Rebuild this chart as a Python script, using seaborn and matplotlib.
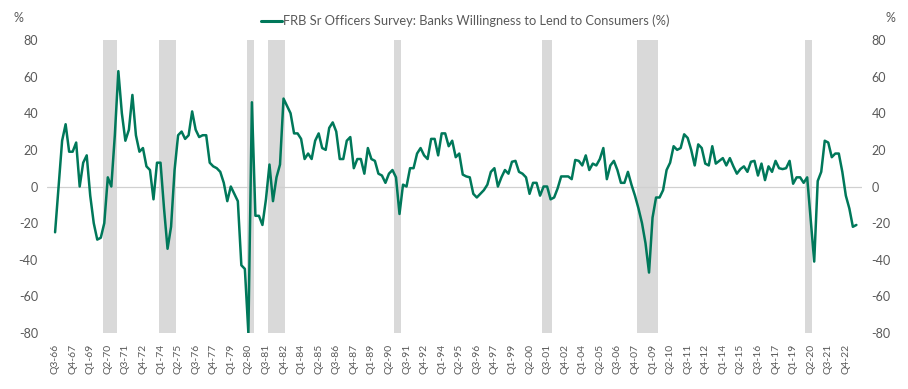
import pandas as pd
import matplotlib.pyplot as plt
from matplotlib.lines import Line2D
import seaborn as sns

# Quarterly categories Q3-66 .. Q3-23
quarters = [f"Q{p.quarter}-{p.year % 100:02d}"
            for p in pd.period_range("1966Q3", "2023Q3", freq="Q")]

# FRB Senior Loan Officers survey: willingness to lend to consumers (%)
willingness = [
    -25, 0, 25, 34, 19, 19, 24, 0, 13, 17,
    -5, -20, -29, -28, -20, 5, 0, 28, 63, 40,
    25, 31, 50, 28, 19, 21, 11, 9, -7, 13,
    13, -12, -34, -22, 9, 28, 30, 26, 28, 41,
    31, 27, 28, 28, 13, 11, 10, 8, 2, -8,
    0, -4, -8, -43, -45, -80, 46, -16, -16, -21,
    -7, 12, -8, 5, 12, 48, 44, 40, 29, 29,
    26, 15, 18, 15, 25, 29, 21, 20, 32, 35,
    30, 15, 15, 25, 27, 10, 15, 15, 7, 21,
    15, 14, 7, 6, 2, 7, 9, 5, -15, 1,
    0, 10, 10, 18, 21, 17, 15, 26, 26, 17,
    29, 29, 22, 25, 16, 18, 6.5, 5.5, 5, -4,
    -6, -4, -2, 1, 8, 10, 0, 5, 9, 7,
    13.5, 14, 8, 7, 5, -4, 2, 2, -5, 0,
    0, -7, -6, -1, 5.5, 5.5, 5.5, 4, 14.5, 14,
    11.5, 17, 9, 12.5, 11.5, 15, 21, 4, 11.5, 14,
    9, 2, 2, 8, 1, -5, -12, -20, -31, -47,
    -17, -6, -6, -2, 9, 13, 22, 20, 21, 28.5,
    26.5, 20, 11.5, 23, 21, 12.5, 11.5, 22, 12.5, 14,
    15.5, 11.5, 15.5, 11, 7, 9.5, 11, 8, 13.5, 14,
    6, 12.5, 3.5, 11, 8, 14, 10, 9.5, 10, 14,
    1.5, 5, 5, 2, 5, -18, -41, 3, 8, 25,
    24, 16, 18, 18, 8, -5, -12, -22, -21,
]

# Recession shading (first and last quarter of each band)
recessions = [("Q1-70", "Q4-70"), ("Q1-74", "Q1-75"), ("Q2-80", "Q3-80"),
              ("Q4-81", "Q4-82"), ("Q4-90", "Q1-91"), ("Q2-01", "Q4-01"),
              ("Q1-08", "Q2-09"), ("Q1-20", "Q2-20")]

y_ticks = [-80, -60, -40, -20, 0, 20, 40, 60, 80]

data = pd.DataFrame({"pos": range(len(quarters)), "quarter": quarters, "value": willingness})

sns.set_style("white")
plt.rcParams["font.family"] = ["Lato", "DejaVu Sans"]

green = "#00785A"
grey_txt = "#595959"

fig = plt.figure(figsize=(9.08, 3.89), dpi=100)
ax = fig.add_axes([47 / 908, 1 - 333 / 389, (862 - 47) / 908, (333 - 40) / 389])

# grey recession bars
for start, end in recessions:
    ax.axvspan(quarters.index(start) - 0.5, quarters.index(end) + 0.5,
               color="#d9d9d9", lw=0, zorder=0)

ax.axhline(0, color="#d0d0d0", lw=0.9, zorder=1)
sns.lineplot(data=data, x="pos", y="value", color=green, lw=1.8, ax=ax, zorder=3)

ax.set_xlim(-2.3, 229.6)
ax.set_ylim(-80, 80)
ax.set_xlabel("")
ax.set_ylabel("")
ax.set_xticks(data["pos"][::5])
ax.set_xticklabels(data["quarter"][::5], rotation=90, fontsize=7.5, color=grey_txt)
ax.set_yticks(y_ticks)
ax.set_yticklabels(y_ticks, fontsize=9, color=grey_txt)
ax.tick_params(axis="x", length=0, pad=8)
ax.tick_params(axis="y", length=0, pad=6.5)
sns.despine(ax=ax, left=True, bottom=True)

# right hand axis mirrors the left
ax2 = ax.twinx()
ax2.set_ylim(-80, 80)
ax2.set_yticks(y_ticks)
ax2.set_yticklabels(y_ticks, fontsize=9, color=grey_txt)
ax2.tick_params(axis="y", length=0, pad=7)
for s in ax2.spines.values():
    s.set_visible(False)

fig.text(13 / 908, 1 - 18 / 389, "%", fontsize=9, color=grey_txt, va="center")
fig.text(886 / 908, 1 - 18 / 389, "%", fontsize=9, color=grey_txt, va="center")

handle = Line2D([], [], color=green, lw=2.2)
ax.legend([handle], ["FRB Sr Officers Survey: Banks Willingness to Lend to Consumers (%)"],
          loc="center left", bbox_to_anchor=(255 / 908, 1 - 21 / 389),
          bbox_transform=fig.transFigure, frameon=False, fontsize=9.3,
          handlelength=1.6, handletextpad=0.1, borderpad=0, labelcolor=grey_txt)

fig.savefig("out.png", dpi=100)
plt.close()
